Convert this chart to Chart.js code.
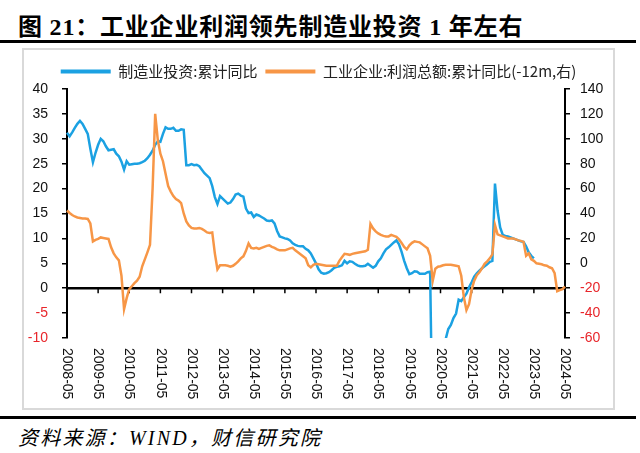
<!DOCTYPE html>
<html>
<head>
<meta charset="utf-8">
<script src="https://cdn.jsdelivr.net/npm/chart.js@4.4.1/dist/chart.umd.min.js"></script>
<style>
  body { margin: 0; width: 640px; height: 453px; background: #fff; position: relative; overflow: hidden; }
  #title { position: absolute; left: 18px; top: 7px; line-height: 30px; font: bold 24px 'Liberation Serif', 'Noto Sans CJK SC'; letter-spacing: 0.8px; white-space: nowrap; }
  .rule { position: absolute; left: 0; width: 636px; height: 3px; background: #000; }
  #frame { position: absolute; left: 22px; top: 48px; width: 593px; height: 362px; box-sizing: border-box; border: 2px solid #d9d9d9; }
  #wrap { position: absolute; left: 22px; top: 48px; width: 593px; height: 362px; }
  #source { position: absolute; left: 18px; top: 422px; line-height: 24px; font: italic 20px 'Liberation Serif', 'Noto Sans CJK SC'; letter-spacing: 2.2px; white-space: nowrap; }
</style>
</head>
<body>
<div id="title">图 21：工业企业利润领先制造业投资 1 年左右</div>
<div class="rule" style="top:40px"></div>
<div id="frame"></div>
<div id="wrap"><canvas id="chart"></canvas></div>
<div class="rule" style="top:416px"></div>
<div id="source">资料来源：WIND，财信研究院</div>
<script>
// monthly categories 2008-05 .. 2024-05
const months = [];
for (let yr = 2008, mo = 5; months.length < 193; mo++) {
    if (mo > 12) { mo = 1; yr++; }
    months.push(yr + '-' + String(mo).padStart(2, '0'));
}

const xTickLabels = ['2008-05', '2009-05', '2010-05', '2011-05', '2012-05', '2013-05', '2014-05', '2015-05',
    '2016-05', '2017-05', '2018-05', '2019-05', '2020-05', '2021-05', '2022-05', '2023-05', '2024-05'];

const leftTicks = [-10, 40, 5];   // min, max, step
const rightTicks = [-60, 140, 20];

// 制造业投资:累计同比 (%), left axis
const mfgInvest = [
    31.2, 30.5, 31.3, 32.2, 33.0, 33.6, 33.0, 32.0, 31.0, 28.0,
    25.3, 27.2, 28.8, 30.0, 29.5, 28.5, 27.7, 27.8, 27.9, 27.0,
    26.5, 25.4, 23.8, 25.5, 24.8, 24.9, 25.0, 25.0, 25.1, 25.3,
    25.6, 26.1, 26.8, 27.6, 28.8, 29.5, 29.4, 31.0, 32.3, 32.0,
    32.0, 32.2, 31.6, 31.6, 31.9, 31.8, 24.7, 24.7, 24.9, 24.7,
    24.8, 24.5, 23.8, 23.1, 22.6, 22.1, 20.5, 18.3, 16.9, 18.5,
    18.0, 17.5, 17.0, 17.2, 17.9, 18.8, 19.0, 18.6, 18.4, 16.0,
    15.1, 15.2, 14.3, 14.8, 14.6, 14.3, 14.0, 13.6, 13.5, 13.6,
    13.0, 11.5, 10.4, 10.2, 10.0, 9.9, 9.6, 9.0, 8.7, 8.5,
    8.4, 8.4, 7.9, 7.6, 7.0, 6.0, 5.0, 3.8, 3.1, 2.9,
    3.0, 3.2, 3.6, 4.1, 4.3, 4.4, 4.6, 5.5, 5.0, 5.4,
    5.3, 4.9, 4.6, 4.4, 4.4, 4.5, 4.9, 4.5, 4.1, 4.5,
    5.4, 6.0, 7.0, 7.8, 8.2, 8.7, 9.2, 9.6, 8.8, 7.3,
    5.5, 4.0, 2.8, 3.0, 3.4, 3.3, 2.9, 2.9, 2.9, 3.2,
    3.3, -31.5, -25.2, -18.8, -14.8, -11.7, -10.2, -8.2, -7.4, -6.0,
    -5.1, -2.3, -2.6, -1.8, -1.1, 0.2, 1.2, 2.3, 3.0, 3.5,
    4.0, 4.4, 4.8, 5.3, 5.5, 21.0, 15.6, 12.2, 10.7, 10.5,
    10.4, 10.2, 10.0, 9.8, 9.6, 9.4, 9.3, 8.4, 7.2, 6.5,
    6.0
];

// 工业企业:利润总额:累计同比, shifted 12 months (%), right axis
const profitLag = [
    42.4, 40.4, 38.8, 37.6, 36.8, 36.4, 36.0, 36.0, 35.6, 32.0,
    17.6, 18.8, 19.6, 20.8, 20.4, 20.0, 19.6, 12.8, 8.0, 4.8,
    2.4, -10.0, -36.8, -28.0, -20.8, -18.4, -16.0, -14.0, -10.8, -2.4,
    3.2, 8.8, 14.8, 60.0, 120.0, 99.2, 88.0, 82.0, 72.0, 62.0,
    57.6, 54.0, 51.6, 50.4, 48.4, 40.0, 33.6, 30.4, 28.4, 28.0,
    28.0, 28.4, 27.6, 26.4, 24.8, 24.4, 24.8, 8.0, -4.8, -1.6,
    -1.6, -1.6, -2.0, -2.8, -2.0, -0.4, 1.6, 4.0, 5.6, 10.0,
    16.0, 12.4, 12.0, 12.4, 11.6, 12.4, 13.2, 14.0, 14.4, 13.2,
    12.4, 11.2, 10.4, 10.4, 10.4, 11.2, 12.0, 12.4, 10.4, 8.8,
    7.2, 5.6, 4.0, -1.6, -3.2, -1.2, -0.4, -0.8, -1.2, -1.6,
    -2.0, -2.0, -2.0, -2.0, -2.0, 2.0, 4.8, 7.6, 7.2, 6.8,
    7.6, 8.0, 8.4, 8.8, 9.2, 9.6, 10.8, 31.6, 28.0, 25.6,
    24.0, 22.8, 22.0, 21.6, 21.6, 22.8, 22.0, 21.2, 19.2, 16.4,
    13.2, 11.2, 14.4, 16.4, 17.6, 17.2, 16.8, 15.2, 13.6, 12.0,
    6.0, -14.0, -4.4, -2.8, -2.4, -1.6, -1.2, -1.2, -1.2, -1.6,
    -2.0, -2.4, -10.0, -27.2, -37.6, -32.8, -21.2, -14.0, -9.6, -7.2,
    -4.0, -0.4, 1.6, 4.0, 7.2, 30.8, 23.2, 22.4, 21.6, 20.8,
    20.0, 20.0, 20.0, 19.2, 18.4, 18.0, 17.2, 6.0, 8.0, 3.2,
    2.0, 0.0, -0.4, -0.8, -1.6, -2.0, -3.2, -4.0, -8.0, -22.4,
    -21.6, -20.8, -18.8
];

const BLUE = '#1BA1E2';
const ORANGE = '#F79646';
const RED = '#E8262B';
const tickFont = { size: 14, family: "'Liberation Sans', Arial, sans-serif" };

// x axis drawn at y=0 with labels kept at the bottom, rotated clockwise
const zeroAxis = {
    id: 'zeroAxis',
    beforeDatasetsDraw(chart) {
        const { ctx, chartArea: a, scales: { x, y } } = chart;
        const y0 = y.getPixelForValue(0);
        ctx.save();
        ctx.strokeStyle = '#000';
        ctx.lineWidth = 2.5;
        ctx.beginPath();
        ctx.moveTo(a.left, y0);
        ctx.lineTo(a.right, y0);
        ctx.stroke();
        ctx.lineWidth = 1.5;
        ctx.beginPath();
        xTickLabels.forEach(lbl => {
            const px = x.getPixelForValue(months.indexOf(lbl));
            ctx.moveTo(px, y0);
            ctx.lineTo(px, y0 + 5);
        });
        ctx.stroke();
        ctx.restore();
    },
    afterDraw(chart) {
        const { ctx, chartArea: a, scales: { x } } = chart;
        ctx.save();
        ctx.fillStyle = '#111';
        ctx.font = '14px ' + tickFont.family;
        ctx.textAlign = 'left';
        ctx.textBaseline = 'middle';
        xTickLabels.forEach(lbl => {
            const px = x.getPixelForValue(months.indexOf(lbl));
            ctx.save();
            ctx.translate(px, a.bottom + 10);
            ctx.rotate(Math.PI / 2);
            ctx.fillText(lbl, 0, 0);
            ctx.restore();
        });
        ctx.restore();
    }
};

const ctx = document.getElementById('chart').getContext('2d');
new Chart(ctx, {
    type: 'line',
    data: {
        labels: months,
        datasets: [{
            label: '制造业投资:累计同比',
            data: mfgInvest,
            yAxisID: 'y',
            borderColor: BLUE,
            backgroundColor: BLUE,
            borderWidth: 2.5,
            pointRadius: 0,
            tension: 0,
            order: 1
        }, {
            label: '工业企业:利润总额:累计同比(-12m,右)',
            data: profitLag,
            yAxisID: 'y1',
            borderColor: ORANGE,
            backgroundColor: ORANGE,
            borderWidth: 2.5,
            pointRadius: 0,
            tension: 0,
            order: 0
        }]
    },
    options: {
        responsive: true,
        maintainAspectRatio: false,
        animation: false,
        layout: { padding: { top: 8, left: 0, right: 0, bottom: 0 } },
        plugins: {
            legend: {
                position: 'top',
                labels: {
                    boxWidth: 50,
                    boxHeight: 4,
                    padding: 8,
                    color: '#222',
                    font: { size: 15, family: "'Noto Sans CJK SC', sans-serif" },
                    sort: (a, b) => a.datasetIndex - b.datasetIndex,
                    generateLabels: chart => Chart.defaults.plugins.legend.labels.generateLabels(chart)
                        .map(it => Object.assign(it, { lineWidth: 0 }))
                }
            },
            tooltip: { enabled: false }
        },
        scales: {
            x: {
                ticks: { display: false },
                grid: { display: false },
                border: { display: false },
                afterFit: s => { s.height = 72; }
            },
            y: {
                position: 'left',
                min: leftTicks[0],
                max: leftTicks[1],
                ticks: {
                    stepSize: leftTicks[2],
                    padding: 14,
                    color: c => c.tick.value < 0 ? RED : '#111',
                    font: tickFont
                },
                grid: { drawOnChartArea: false, tickLength: 5, color: '#000', lineWidth: 1.5 },
                border: { color: '#000', width: 2 },
                afterFit: s => { s.width = 45; }
            },
            y1: {
                position: 'right',
                min: rightTicks[0],
                max: rightTicks[1],
                ticks: {
                    stepSize: rightTicks[2],
                    padding: 10,
                    color: c => c.tick.value < 0 ? RED : '#111',
                    font: tickFont
                },
                grid: { drawOnChartArea: false, tickLength: 5, color: '#000', lineWidth: 1.5 },
                border: { color: '#000', width: 2 },
                afterFit: s => { s.width = 50; }
            }
        }
    },
    plugins: [zeroAxis]
});
</script>
</body>
</html>
